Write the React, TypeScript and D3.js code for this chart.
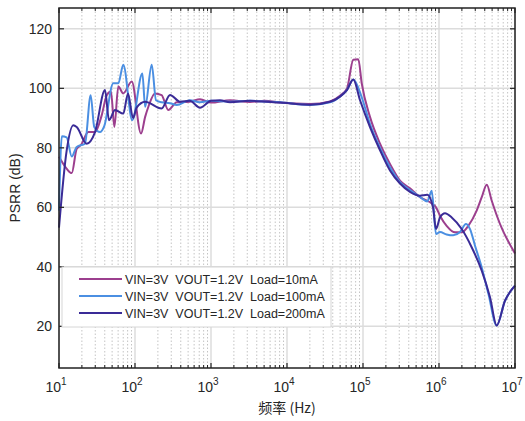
import React from "react";
import * as d3 from "d3";

const FREQ_10MA = [10, 12.6, 14.7, 17.1, 19.5, 24.3, 29.8, 36.5, 42.5, 48.3, 53.5, 60.3, 70.1, 90.6, 120, 136, 150, 183, 224, 274, 354, 525, 716, 1000, 1780, 3258, 5100, 8091, 20090, 36810, 49770, 61660, 74470, 86700, 96160, 123600, 167500, 226500, 306900, 415000, 562300, 762100, 912000, 1.03e6, 1.26e6, 1.63e6, 1.99e6, 2.43e6, 3.13e6, 3.65e6, 4.25e6, 4.93e6, 6.35e6, 1e7];
const PSRR_10MA = [77, 73, 71.5, 79.7, 81, 85.3, 85.3, 91, 97.7, 98.9, 87, 100.6, 98.3, 102.3, 84.8, 90.4, 93.8, 98.3, 97.7, 92.7, 95.3, 95.5, 96.3, 95.2, 96, 95.4, 95.8, 95.2, 94.7, 95.6, 97.5, 100, 109.6, 109.8, 101.7, 90.4, 81.4, 74.6, 69, 66.4, 63.4, 61.7, 60, 57.2, 53.8, 51.6, 51.6, 53.8, 58.9, 63.4, 67.6, 62.3, 54.4, 44.5];

const FREQ_100MA = [10, 10.9, 12.6, 14.7, 17.1, 22.0, 26.1, 29.1, 34.6, 39.4, 51.8, 60.3, 70.1, 92.0, 125, 136, 166, 189, 224, 289, 354, 525, 716, 1000, 1780, 3258, 8091, 20090, 36810, 49770, 61660, 74470, 96160, 123600, 167500, 226500, 306900, 415000, 562300, 701500, 801700, 914100, 1.03e6, 1.26e6, 1.54e6, 1.89e6, 2.26e6, 2.56e6, 2.98e6, 3.65e6, 4.46e6, 5.74e6, 7.38e6, 1e7];
const PSRR_100MA = [58.9, 83.9, 83.5, 77.1, 80.3, 81.4, 97.7, 87, 85.3, 87.3, 101.7, 101.7, 107.9, 89.3, 105, 93.8, 107.9, 96, 95.3, 95, 94.4, 96, 95.3, 95.8, 95.5, 95.8, 95.3, 94.4, 95.3, 97.2, 99.5, 103, 97, 88, 80, 73.5, 68.5, 65.8, 63.5, 62, 65.6, 51, 51.7, 50.9, 50.6, 51.7, 54.4, 52.7, 47.1, 39.8, 31, 20.3, 28.6, 33.7];

const FREQ_200MA = [10, 12.6, 15.4, 17.1, 23.1, 29.8, 40.3, 45.5, 54.6, 70.1, 80.9, 94.2, 105, 136, 224, 289, 391, 525, 716, 1000, 1312, 1780, 3258, 8091, 20090, 36810, 49770, 61660, 74470, 91410, 123600, 167500, 226500, 306900, 415000, 562300, 701500, 833700, 914100, 1.03e6, 1.2e6, 1.47e6, 1.99e6, 2.69e6, 3.65e6, 4.69e6, 5.74e6, 7.38e6, 1e7];
const PSRR_200MA = [53.2, 79, 87.6, 87, 81.4, 85.3, 99.4, 89.3, 92.7, 91.5, 98.3, 90, 93.5, 95.5, 93.2, 97.8, 95.5, 95.8, 93.5, 95.8, 96, 95.3, 95.8, 95.2, 94.5, 95.5, 97.2, 99.5, 103, 96, 87, 79.2, 72.4, 68, 65.2, 63.9, 64.2, 60, 52.7, 56.6, 58, 56.6, 52.7, 46.6, 38.7, 29.8, 20.3, 28.6, 33.7];

const SERIES_LABELS = [
  "VIN=3V  VOUT=1.2V  Load=10mA",
  "VIN=3V  VOUT=1.2V  Load=100mA",
  "VIN=3V  VOUT=1.2V  Load=200mA",
];
const SERIES_COLORS = ["#9C3F8E", "#4B8FE2", "#3A2B97"];
const X_TICK_EXPONENTS = [1, 2, 3, 4, 5, 6, 7];
const Y_TICKS = [20, 40, 60, 80, 100, 120];
const X_LABEL = "频率 (Hz)";
const Y_LABEL = "PSRR (dB)";

export default function App() {
  const W = 525, H = 421;
  const left = 59, right = 515, top = 8, bottom = 368;
  const x = d3.scaleLog().domain([10, 1e7]).range([left, right]);
  const y = d3.scaleLinear().domain([6, 127]).range([bottom, top]);

  const series = [
    { f: FREQ_10MA, v: PSRR_10MA },
    { f: FREQ_100MA, v: PSRR_100MA },
    { f: FREQ_200MA, v: PSRR_200MA },
  ];
  const line = d3
    .line<[number, number]>()
    .x((d) => x(d[0]))
    .y((d) => y(d[1]))
    .curve(d3.curveMonotoneX);

  const minor: number[] = [];
  for (let e = 1; e < 7; e++) for (let k = 2; k <= 9; k++) minor.push(k * Math.pow(10, e));
  const major = X_TICK_EXPONENTS.map((e) => Math.pow(10, e));

  const font = "Liberation Sans, Arial, Helvetica, sans-serif";
  const txt = "#262626";

  const legX = 62, legY = 267, legW = 269, legH = 60;

  return (
    <svg width={W} height={H} style={{ position: "absolute", left: 0, top: 0 }} fontFamily={font}>
      <rect x={0} y={0} width={W} height={H} fill="#fff" />
      {/* minor grid */}
      {minor.map((m, i) => (
        <line key={"mg" + i} x1={x(m)} x2={x(m)} y1={top} y2={bottom} stroke="#c4c4c4" strokeWidth={1} strokeDasharray="1.5,2" />
      ))}
      {/* major grid */}
      {major.map((m, i) => (
        <line key={"Mg" + i} x1={x(m)} x2={x(m)} y1={top} y2={bottom} stroke="#dcdcdc" strokeWidth={1.5} />
      ))}
      {Y_TICKS.map((t) => (
        <line key={"yg" + t} x1={left} x2={right} y1={y(t)} y2={y(t)} stroke="#dcdcdc" strokeWidth={1.5} />
      ))}
      {/* series */}
      {series.map((s, i) => (
        <path
          key={"s" + i}
          d={line(s.f.map((f, j) => [f, s.v[j]] as [number, number])) || ""}
          fill="none"
          stroke={SERIES_COLORS[i]}
          strokeWidth={2}
          strokeLinejoin="round"
        />
      ))}
      {/* axes box */}
      <rect x={left} y={top} width={right - left} height={bottom - top} fill="none" stroke="#222" strokeWidth={1.5} />
      {/* ticks */}
      {major.map((m, i) => (
        <g key={"xt" + i}>
          <line x1={x(m)} x2={x(m)} y1={bottom} y2={bottom - 5} stroke="#222" strokeWidth={1.2} />
          <line x1={x(m)} x2={x(m)} y1={top} y2={top + 5} stroke="#222" strokeWidth={1.2} />
        </g>
      ))}
      {minor.map((m, i) => (
        <g key={"xmt" + i}>
          <line x1={x(m)} x2={x(m)} y1={bottom} y2={bottom - 3} stroke="#222" strokeWidth={1} />
          <line x1={x(m)} x2={x(m)} y1={top} y2={top + 3} stroke="#222" strokeWidth={1} />
        </g>
      ))}
      {Y_TICKS.map((t) => (
        <g key={"yt" + t}>
          <line x1={left} x2={left + 5} y1={y(t)} y2={y(t)} stroke="#222" strokeWidth={1.2} />
          <line x1={right} x2={right - 5} y1={y(t)} y2={y(t)} stroke="#222" strokeWidth={1.2} />
        </g>
      ))}
      {/* tick labels */}
      {X_TICK_EXPONENTS.map((e) => (
        <text key={"xl" + e} x={x(Math.pow(10, e)) - 3} y={392} textAnchor="middle" fontSize={14} fill={txt}>
          10
          <tspan dy={-7} fontSize={10}>{e}</tspan>
        </text>
      ))}
      {Y_TICKS.map((t) => (
        <text key={"yl" + t} x={52} y={y(t) + 5} textAnchor="end" fontSize={14} fill={txt}>
          {t}
        </text>
      ))}
      {/* axis labels */}
      <text x={(left + right) / 2} y={413} textAnchor="middle" fontSize={14} fill={txt} fontFamily="Noto Sans CJK SC, Liberation Sans, sans-serif">
        {X_LABEL}
      </text>
      <text
        transform={`translate(20,${(top + bottom) / 2}) rotate(-90)`}
        textAnchor="middle"
        fontSize={14}
        fill={txt}
      >
        {Y_LABEL}
      </text>
      {/* legend */}
      <rect x={legX} y={legY} width={legW} height={legH} fill="#fff" stroke="#d6d6d6" strokeWidth={1} />
      {SERIES_LABELS.map((lab, i) => (
        <g key={"lg" + i}>
          <line x1={79} x2={122} y1={279 + i * 17} y2={279 + i * 17} stroke={SERIES_COLORS[i]} strokeWidth={2} />
          <text x={125} y={283.5 + i * 17} fontSize={12.5} fill={txt} style={{ whiteSpace: "pre" }}>
            {lab}
          </text>
        </g>
      ))}
    </svg>
  );
}
